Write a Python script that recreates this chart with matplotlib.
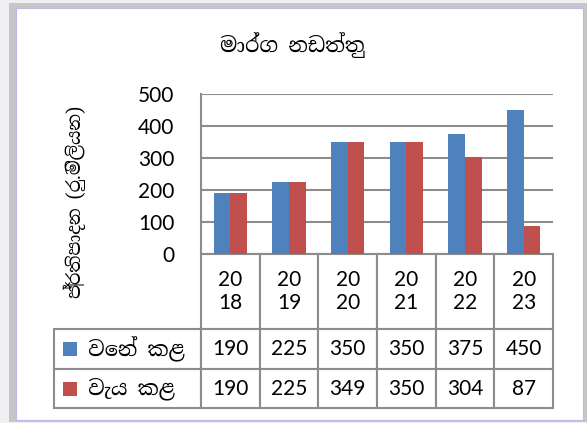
"""
Road maintenance allocations vs. spending, Excel-style column chart with a data table.
"""
import matplotlib
matplotlib.use("Agg")
import matplotlib.pyplot as plt
from matplotlib import font_manager as fm
from matplotlib.patches import Rectangle

# ── Data ──────────────────────────────────────────────────────────────────────
years = ['2018', '2019', '2020', '2021', '2022', '2023']
allocated = [190, 225, 350, 350, 375, 450]
spent = [190, 225, 349, 350, 304, 87]
series_names = ['වෙන් කළ', 'වැය කළ']
title = 'මාර්ග නඩත්තු'
ylabel = 'ප්‍රතිපාදන (රු.මිලියන)'
yticks = [0, 100, 200, 300, 400, 500]

BLUE = '#4F81BD'
RED = '#C0504D'
GRID = '#8c8c8c'


# ── Look for a font that has Sinhala glyphs ───────────────────────────────────
def find_sinhala_font():
    files = fm.findSystemFonts()
    files = sorted(files, key=lambda f: 0 if 'inhala' in f or 'koola' in f else 1)
    try:
        from fontTools.ttLib import TTFont
    except ImportError:
        return None
    for f in files:
        try:
            tt = TTFont(f, fontNumber=0, lazy=True)
            cmap = tt.getBestCmap()
            if cmap and 0x0DB8 in cmap:
                return fm.FontProperties(fname=f).get_name()
        except Exception:
            continue
    return None


sin_font = find_sinhala_font()
SIN_FAMILY = ([sin_font] if sin_font else []) + ['DejaVu Sans']
NUM_FAMILY = ['Lato', 'DejaVu Sans']
plt.rcParams['font.family'] = NUM_FAMILY

# ── Figure and card background ────────────────────────────────────────────────
W, H = 587, 423
fig = plt.figure(figsize=(W / 100, H / 100), dpi=100)
fig.patch.set_facecolor('#eef0f4')


def fx(px):
    return px / W


def fy(py):
    return 1 - py / H


fig.add_artist(Rectangle((fx(9), fy(422)), fx(578), 419 / H, transform=fig.transFigure,
                         facecolor='#c6c6c6', edgecolor='none', zorder=0))
fig.add_artist(Rectangle((fx(16), fy(420)), fx(567), 412 / H, transform=fig.transFigure,
                         facecolor='white', edgecolor='#c4b5e6', linewidth=0.8, zorder=0))

# ── Plot area ─────────────────────────────────────────────────────────────────
AX_W, AX_H = 352, 160          # plot area in pixels
ax = fig.add_axes([fx(201), fy(254), fx(AX_W), AX_H / H])
ax.set_facecolor('none')

x = list(range(len(years)))
bw = 1 / 3.5
ax.bar([i - bw / 2 for i in x], allocated, width=bw, color=BLUE, zorder=3)
ax.bar([i + bw / 2 for i in x], spent, width=bw, color=RED, zorder=3)

ax.set_xlim(-0.5, len(years) - 0.5)
ax.set_ylim(0, 500)
ax.set_yticks(yticks)
ax.set_xticks([])
ax.tick_params(axis='y', length=0, pad=19, labelsize=15)
ax.grid(axis='y', color=GRID, linewidth=1.5, zorder=0)
for side in ['top', 'right', 'bottom']:
    ax.spines[side].set_visible(False)
ax.spines['left'].set_color(GRID)
ax.spines['left'].set_linewidth(1.5)

fig.text(fx(292), fy(45), title, ha='center', va='center', fontsize=15, family=SIN_FAMILY)
fig.text(fx(75), fy(202), ylabel, ha='center', va='center', rotation=90, fontsize=13,
         family=SIN_FAMILY)

# ── Data table under the plot ─────────────────────────────────────────────────
col_labels = [y[:2] + '\n' + y[2:] for y in years]
cell_text = [[str(v) for v in allocated], [str(v) for v in spent]]

# sizes in axes units, so the bbox scaling below is 1:1
lbl_w = 147 / AX_W
col_w = 1 / len(years)
row_h = [75 / AX_H, 40 / AX_H, 39 / AX_H]
tbl_h = sum(row_h)

tbl = ax.table(cellText=cell_text, colLabels=col_labels, cellLoc='center',
               colWidths=[col_w] * len(years), bbox=[0, -tbl_h, 1, tbl_h])
# series-name column added by hand (fixed width, left aligned)
for k, name in enumerate(series_names):
    cell = tbl.add_cell(k + 1, -1, lbl_w, row_h[k + 1], text='   ' + name, loc='left')
    cell.get_text().set_fontfamily(SIN_FAMILY)
    cell.PAD = 0.02
tbl.auto_set_font_size(False)
tbl.set_fontsize(15)
for (r, c), cell in tbl.get_celld().items():
    cell.set_edgecolor(GRID)
    cell.set_linewidth(1.5)
    cell.set_height(row_h[r])

# legend keys inside the series-name cells
for k, color in enumerate([BLUE, RED]):
    yc = -(sum(row_h[:k + 1]) + row_h[k + 1] / 2)
    ax.add_patch(Rectangle((-lbl_w + 9 / AX_W, yc - 7 / AX_H), 14 / AX_W, 14 / AX_H,
                           transform=ax.transAxes, facecolor=color, edgecolor='none',
                           clip_on=False, zorder=5))

fig.savefig('out.png', dpi=100, facecolor=fig.get_facecolor())
